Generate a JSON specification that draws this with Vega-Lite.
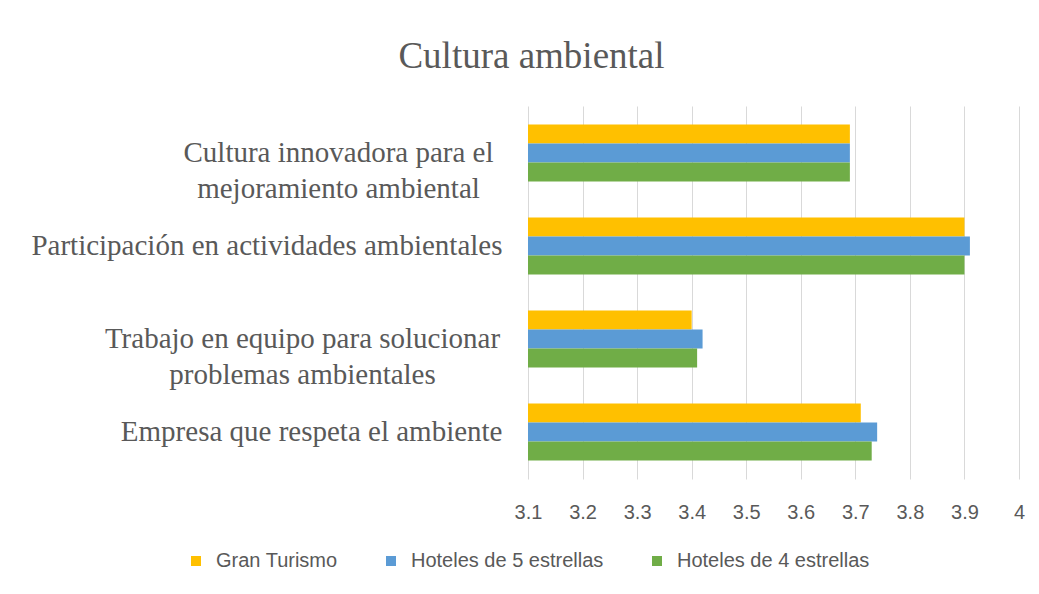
{
  "$schema": "https://vega.github.io/schema/vega-lite/v6.json",
  "width": 491,
  "height": 373,
  "autosize": {"type": "none"},
  "padding": {"left": 528, "top": 106, "right": 20, "bottom": 115},
  "background": "white",
  "title": {
    "text": "Cultura ambiental",
    "font": "Liberation Serif",
    "fontSize": 37,
    "fontWeight": "normal",
    "color": "#595959",
    "anchor": "middle",
    "dx": -242,
    "offset": 30
  },
  "data": {
    "values": [
      {"aspecto": "Cultura innovadora para el mejoramiento ambiental", "serie": "Gran Turismo", "valor": 3.69},
      {"aspecto": "Cultura innovadora para el mejoramiento ambiental", "serie": "Hoteles de 5 estrellas", "valor": 3.69},
      {"aspecto": "Cultura innovadora para el mejoramiento ambiental", "serie": "Hoteles de 4 estrellas", "valor": 3.69},
      {"aspecto": "Participación en actividades ambientales", "serie": "Gran Turismo", "valor": 3.90},
      {"aspecto": "Participación en actividades ambientales", "serie": "Hoteles de 5 estrellas", "valor": 3.91},
      {"aspecto": "Participación en actividades ambientales", "serie": "Hoteles de 4 estrellas", "valor": 3.90},
      {"aspecto": "Trabajo en equipo para solucionar problemas ambientales", "serie": "Gran Turismo", "valor": 3.40},
      {"aspecto": "Trabajo en equipo para solucionar problemas ambientales", "serie": "Hoteles de 5 estrellas", "valor": 3.42},
      {"aspecto": "Trabajo en equipo para solucionar problemas ambientales", "serie": "Hoteles de 4 estrellas", "valor": 3.41},
      {"aspecto": "Empresa que respeta el ambiente", "serie": "Gran Turismo", "valor": 3.71},
      {"aspecto": "Empresa que respeta el ambiente", "serie": "Hoteles de 5 estrellas", "valor": 3.74},
      {"aspecto": "Empresa que respeta el ambiente", "serie": "Hoteles de 4 estrellas", "valor": 3.73}
    ]
  },
  "mark": {"type": "bar"},
  "encoding": {
    "y": {
      "field": "aspecto",
      "type": "nominal",
      "sort": [
        "Cultura innovadora para el mejoramiento ambiental",
        "Participación en actividades ambientales",
        "Trabajo en equipo para solucionar problemas ambientales",
        "Empresa que respeta el ambiente"
      ],
      "scale": {"paddingInner": 0.387, "paddingOuter": 0.2},
      "axis": {
        "title": null,
        "domain": false,
        "ticks": false,
        "labelFont": "Liberation Serif",
        "labelFontSize": 29,
        "labelColor": "#595959",
        "labelLimit": 600,
        "labelLineHeight": 36,
        "labelBaseline": "middle",
        "labelAlign": {
          "condition": {"test": "indexof(datum.value, 'Cultura') == 0 || indexof(datum.value, 'Trabajo') == 0", "value": "center"},
          "value": "right"
        },
        "labelPadding": {
          "condition": [
            {"test": "indexof(datum.value, 'Cultura') == 0", "value": 190},
            {"test": "indexof(datum.value, 'Trabajo') == 0", "value": 226}
          ],
          "value": 26
        },
        "labelExpr": "indexof(datum.value, 'Cultura') == 0 ? ['Cultura innovadora para el', 'mejoramiento ambiental'] : indexof(datum.value, 'Trabajo') == 0 ? ['Trabajo en equipo para solucionar', 'problemas ambientales'] : datum.value"
      }
    },
    "yOffset": {
      "field": "serie",
      "type": "nominal",
      "sort": ["Gran Turismo", "Hoteles de 5 estrellas", "Hoteles de 4 estrellas"],
      "scale": {"paddingInner": 0, "paddingOuter": 0}
    },
    "x": {
      "field": "valor",
      "type": "quantitative",
      "scale": {"domain": [3.1, 4], "zero": false, "nice": false},
      "axis": {
        "title": null,
        "values": [3.1, 3.2, 3.3, 3.4, 3.5, 3.6, 3.7, 3.8, 3.9, 4],
        "format": "~g",
        "domain": false,
        "ticks": false,
        "grid": true,
        "gridColor": "#d9d9d9",
        "gridWidth": 1,
        "labelFont": "Liberation Sans",
        "labelFontSize": 20,
        "labelColor": "#595959",
        "labelPadding": 23,
        "labelFlush": false
      }
    },
    "x2": {"datum": 3.1},
    "color": {
      "field": "serie",
      "type": "nominal",
      "sort": ["Gran Turismo", "Hoteles de 5 estrellas", "Hoteles de 4 estrellas"],
      "scale": {
        "domain": ["Gran Turismo", "Hoteles de 5 estrellas", "Hoteles de 4 estrellas"],
        "range": ["#FFC000", "#5B9BD5", "#70AD47"]
      },
      "legend": {
        "title": null,
        "orient": "none",
        "direction": "horizontal",
        "legendX": -342,
        "legendY": 445,
        "symbolType": "square",
        "symbolSize": 100,
        "symbolStrokeWidth": 0,
        "labelFont": "Liberation Sans",
        "labelFontSize": 20,
        "labelColor": "#595959",
        "labelOffset": 10,
        "columnPadding": 43,
        "labelLimit": 400
      }
    }
  },
  "config": {
    "view": {"stroke": null}
  }
}
